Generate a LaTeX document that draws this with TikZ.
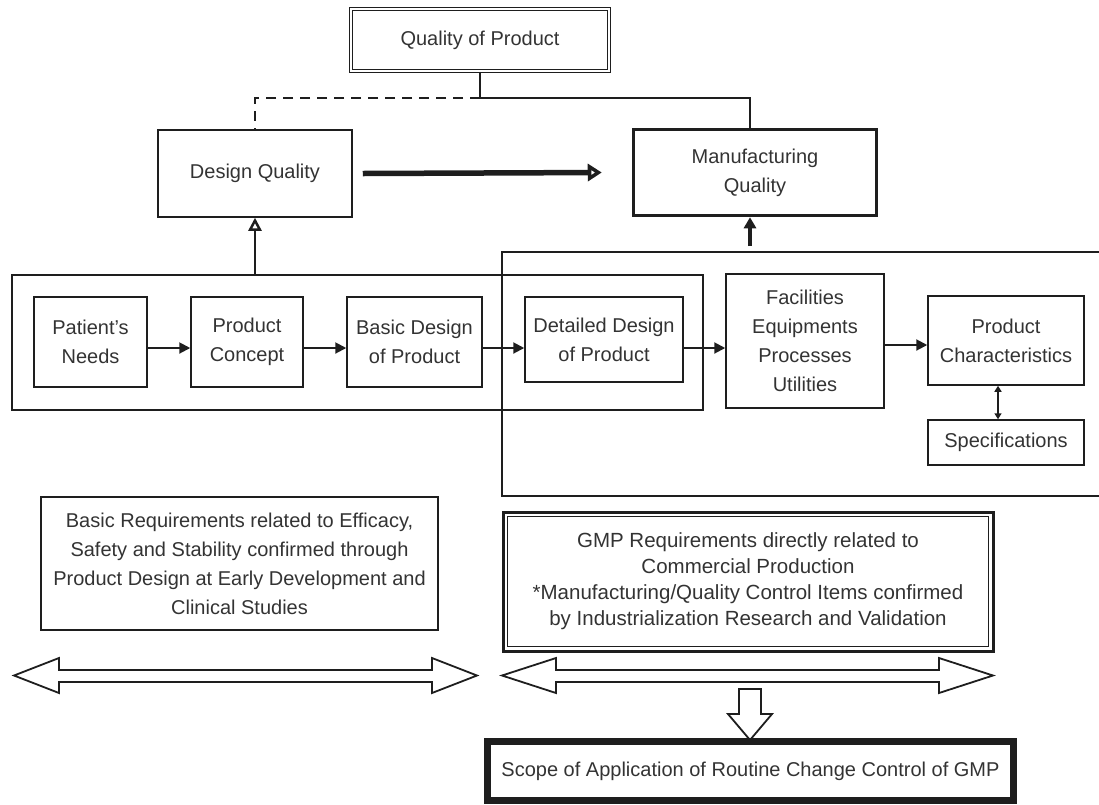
\documentclass[tikz,border=0pt]{standalone}
\usepackage{fontspec}
\setmainfont{Liberation Sans}
\usetikzlibrary{arrows.meta}
\definecolor{ink}{HTML}{1E1E1E}
\definecolor{txt}{HTML}{333333}
\begin{document}
\begin{tikzpicture}[x=1pt,y=-1pt,
  every node/.style={font=\fontsize{20}{29}\selectfont, text=txt, align=center, inner sep=0pt},
  box/.style={draw=ink, line width=1.5pt},
  thickbox/.style={draw=ink, line width=3.5pt},
  rowarr/.style={draw=ink, line width=2pt, -{Triangle[length=11pt,width=11pt]}},
  hollow/.style={draw=ink, line width=1.8pt, fill=white, line join=miter}
]
\useasboundingbox (0,0) rectangle (1099,804);

% top box
\node[draw=ink, line width=1.5pt, double=white, double distance=1.8pt, minimum width=258pt, minimum height=62pt] (qp) at (480,40) {Quality of Product};

% second level
\node[box, minimum width=194pt, minimum height=87pt] (dq) at (255,173.5) {Design Quality};
\node[thickbox, minimum width=243pt, minimum height=86pt] (mq) at (755,172.5) {Manufacturing\\Quality};

% connectors from top
\coordinate (junc) at (qp.south |- 0,98);
\draw[draw=ink, line width=1.5pt] (qp.south) -- (junc) -| ([xshift=-5pt]mq.north);
\draw[draw=ink, line width=1.5pt, dash pattern=on 10pt off 7pt] (junc) -| (dq.north);

% DQ -> MQ
\draw[draw=ink, line width=5.5pt, -{Triangle[open, length=14pt, width=17pt, fill=white]}] ([xshift=10pt]dq.east) -- ([xshift=-30pt]mq.west);

% group frames
\node[box, minimum width=691pt, minimum height=135pt] (dgrp) at (357.5,342.5) {};
\draw[draw=ink, line width=2.5pt] (1110,252) -- (502,252) -- (502,496) -- (1110,496);
\coordinate (dgtop) at (255,275);
\coordinate (mgtop) at (750,246);

% row boxes
\node[box, minimum width=113pt, minimum height=90pt] (pn) at (90.5,342) {Patient's\\Needs};
\node[box, minimum width=112pt, minimum height=90pt] (pc) at (247,342) {Product\\Concept};
\node[box, minimum width=135pt, minimum height=90pt] (bd) at (414.5,342) {Basic Design\\of Product};
\node[box, minimum width=158pt, minimum height=85pt] (dd) at (604,339.5) {Detailed Design\\of Product};
\node[box, minimum width=158pt, minimum height=134pt] (fac) at (805,341) {Facilities\\Equipments\\Processes\\Utilities};
\node[box, minimum width=156pt, minimum height=89pt] (chr) at (1006,340.5) {Product\\Characteristics};
\node[box, minimum width=156pt, minimum height=45pt] (spec) at (1006,442.5) {Specifications};

% row arrows
\draw[rowarr] (pn.east |- 0,348) -- (pc.west |- 0,348);
\draw[rowarr] (pc.east |- 0,348) -- (bd.west |- 0,348);
\draw[rowarr] (bd.east |- 0,348) -- (dd.west |- 0,348);
\draw[rowarr] (dd.east |- 0,348) -- (fac.west |- 0,348);
\draw[rowarr] (fac.east |- 0,345) -- (chr.west |- 0,345);
\draw[draw=ink, line width=1.5pt, {Triangle[length=6pt,width=7pt]}-{Triangle[length=6pt,width=7pt]}] ([xshift=-8pt]chr.south) -- ([xshift=-8pt]spec.north);

% up arrows
\draw[draw=ink, line width=2.5pt, -{Triangle[open, length=13pt, width=13pt, fill=white]}] (dgtop) -- (dq.south);
\draw[draw=ink, line width=3.5pt, -{Triangle[length=11pt, width=12pt]}] (mgtop) -- (mgtop |- mq.south);

% bottom text boxes
\node[box, minimum width=397pt, minimum height=133pt] (basic) at (239.5,563.5) {Basic Requirements related to Efficacy,\\Safety and Stability confirmed through\\Product Design at Early Development and\\Clinical Studies};
\node[draw=ink, line width=3pt, minimum width=490pt, minimum height=139pt, font=\fontsize{20.5}{26}\selectfont] (gmp) at (748,581.5) {GMP Requirements directly related to\\Commercial Production\\*Manufacturing/Quality Control Items confirmed\\by Industrialization Research and Validation};
\draw[draw=ink, line width=1.4pt] ([shift={(6,6)}]gmp.north west) rectangle ([shift={(-6,-6)}]gmp.south east);

% hollow double arrows
\draw[hollow] (14,675.5) -- (59,658) -- (59,670) -- (432,670) -- (432,658) -- (477,675.5) -- (432,693) -- (432,682) -- (59,682) -- (59,693) -- cycle;
\draw[hollow] (502,675.5) -- (556,658) -- (556,670) -- (939,670) -- (939,658) -- (993,675.5) -- (939,693) -- (939,682) -- (556,682) -- (556,693) -- cycle;

% down hollow arrow
\draw[hollow] (739,689) -- (761,689) -- (761,714) -- (772,714) -- (750,740) -- (728,714) -- (739,714) -- cycle;

% scope box
\node[draw=ink, line width=7pt, minimum width=526pt, minimum height=59pt] (scope) at (750.5,771) {Scope of Application of Routine Change Control of GMP};
\end{tikzpicture}
\end{document}
